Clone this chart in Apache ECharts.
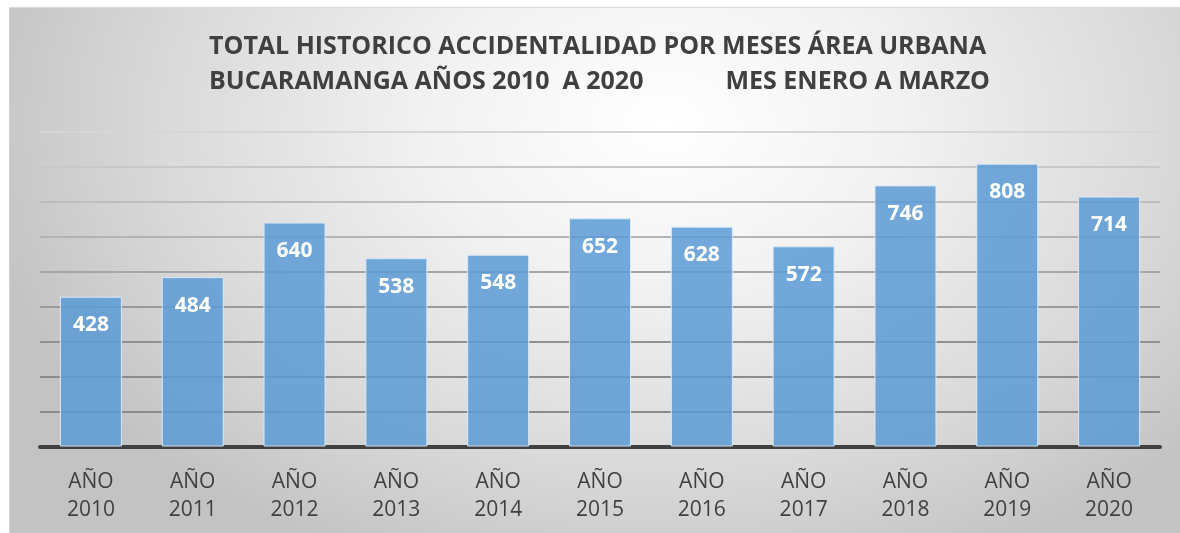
<!DOCTYPE html>
<html>
<head>
<meta charset="utf-8">
<script src="https://cdn.jsdelivr.net/npm/echarts@6/dist/echarts.min.js"></script>
<style>
  html, body { margin: 0; padding: 0; background: #ffffff; }
  #bg {
    position: absolute; left: 9px; top: 7px; width: 1171px; height: 526px;
    border-top: 1px solid #d9d9d9; border-left: 1px solid #d0d0d0;
    background: radial-gradient(ellipse 60% 92% at 56% 22%, #ffffff 0%, #f2f2f2 33%, #d9d9d9 72%, #c3c3c3 100%);
  }
  #chart { position: absolute; left: 0; top: 0; width: 1180px; height: 533px; }
</style>
</head>
<body>
<div id="bg"></div>
<div id="chart"></div>
<script>
    const years = ['2010', '2011', '2012', '2013', '2014', '2015', '2016', '2017', '2018', '2019', '2020'];
    const accidents = [428, 484, 640, 538, 548, 652, 628, 572, 746, 808, 714];
    const titleLine1 = 'TOTAL HISTORICO ACCIDENTALIDAD POR MESES ÁREA URBANA';
    const titleLine2a = 'BUCARAMANGA AÑOS 2010  A 2020';
    const titleLine2b = 'MES ENERO A MARZO';

    const chartDom = document.getElementById('chart');
    const myChart = echarts.init(chartDom);

    // gridlines get lighter going up
    const gridColors = ['#404040', '#8a8a8a', '#8c8c8c', '#919191', '#9a9a9a', '#a6a6a6', '#b3b3b3', '#bdbdbd', '#c8c8c8', '#d6d6d6'];

    const titleStyle = {
        fontFamily: 'Open Sans',
        fontWeight: 'bold',
        fontSize: 25,
        fill: '#404040'
    };

    const option = {
        backgroundColor: 'transparent',
        animation: false,
        graphic: [
            { type: 'text', left: 209, top: 34, style: Object.assign({ text: titleLine1 }, titleStyle) },
            { type: 'text', left: 209, top: 69, style: Object.assign({ text: titleLine2a }, titleStyle) },
            { type: 'text', right: 190, top: 69, style: Object.assign({ text: titleLine2b }, titleStyle) }
        ],
        grid: { left: 40, right: 20, top: 131.5, bottom: 86.5 },
        xAxis: {
            type: 'category',
            data: years.map(y => 'AÑO\n' + y),
            axisLine: { lineStyle: { color: '#404040', width: 4 } },
            axisTick: { show: false },
            axisLabel: {
                color: '#404040',
                fontFamily: 'Open Sans',
                fontSize: 21,
                lineHeight: 28,
                margin: 22
            }
        },
        yAxis: {
            type: 'value',
            min: 0,
            max: 900,
            interval: 100,
            axisLabel: { show: false },
            axisLine: { show: false },
            axisTick: { show: false },
            splitLine: { lineStyle: { color: gridColors, width: 2 } }
        },
        series: [{
            type: 'bar',
            data: accidents,
            barWidth: 62,
            itemStyle: {
                color: 'rgba(91,155,213,0.85)',
                borderColor: '#dbe8f5',
                borderWidth: 1
            },
            label: {
                show: true,
                position: 'insideTop',
                distance: 18,
                color: '#ffffff',
                fontFamily: 'Open Sans',
                fontWeight: 'bold',
                fontSize: 21
            }
        }]
    };
    myChart.setOption(option);
</script>
</body>
</html>
